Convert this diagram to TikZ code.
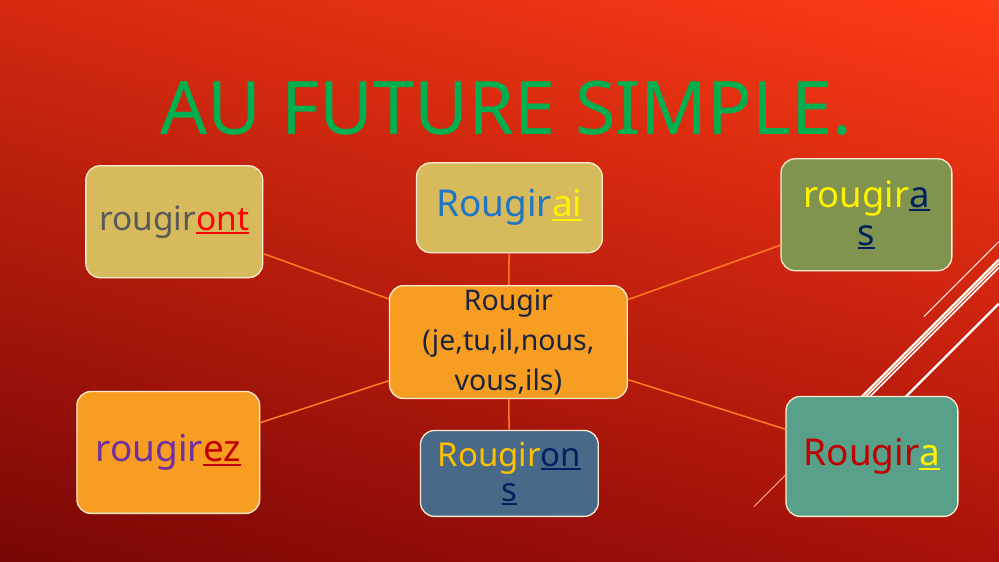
\documentclass[tikz,border=0pt]{standalone}
\usepackage{fontspec}
\setmainfont{Noto Sans}
\definecolor{bgul}{RGB}{212,42,16}
\definecolor{bgur}{RGB}{255,60,22}
\definecolor{bgll}{RGB}{120,6,5}
\definecolor{bglr}{RGB}{168,18,10}
\definecolor{titlegreen}{RGB}{0,176,80}
\definecolor{boxline}{RGB}{250,236,210}
\definecolor{linkorange}{RGB}{255,125,30}
\definecolor{khaki}{RGB}{214,186,92}
\definecolor{olive}{RGB}{128,148,80}
\definecolor{orangebox}{RGB}{247,157,34}
\definecolor{steel}{RGB}{72,106,136}
\definecolor{teal1}{RGB}{88,160,138}
\definecolor{navy}{RGB}{0,32,96}
\definecolor{inknavy}{RGB}{26,36,64}
\definecolor{greytext}{RGB}{89,89,89}
\definecolor{bluetext}{RGB}{31,118,198}
\definecolor{purpletext}{RGB}{112,48,160}
\definecolor{darkred}{RGB}{192,0,0}
\definecolor{goldtext}{RGB}{255,192,0}
\usetikzlibrary{positioning, shadings}
\newcommand{\undr}[1]{\setbox0\hbox{#1}\rlap{\rule[-4pt]{\wd0}{1.8pt}}\box0}
\tikzset{
  verbbox/.style={draw=boxline, line width=1.3pt, rounded corners=14pt, align=center, inner sep=2pt, font=\fontsize{37}{38}\selectfont},
  link/.style={draw=linkorange, line width=1.5pt},
  deco/.style={draw=white, line width=2.4pt},
}

\begin{document}
\begin{tikzpicture}[x=1pt, y=-1pt]
  % background
  \shade[upper left=bgul, upper right=bgur, lower left=bgll, lower right=bglr] (0,0) rectangle (1000,562);

  % diagonal strokes on the right
  \draw[white, line width=1pt] (925,317) -- (1000,242);
  \draw[deco] (862,398) -- (1000,260);
  \draw[white, line width=1.6pt] (866,398) -- (1000,264);
  \draw[white, line width=1.6pt] (870,398) -- (1000,268);
  \draw[linkorange!60!white, line width=1pt] (755,507) -- (1000,262);
  \draw[deco] (906,398) -- (1000,304);

  % title
  \node[font=\fontsize{74}{80}\selectfont, text=titlegreen] (title) at (507,108) {AU FUTURE SIMPLE.};

  % centre
  \node[verbbox, fill=orangebox, minimum width=238pt, minimum height=113pt, font=\fontsize{28.5}{40}\selectfont, text=inknavy] (verb) at (509,342.5) {Rougir\\(je,tu,il,nous,\\vous,ils)};

  % endings
  \node[verbbox, fill=khaki, minimum width=186pt, minimum height=90pt] (je) at (510,208) {\textcolor{bluetext}{Rougir}\textcolor{yellow}{\undr{ai}}};
  \node[verbbox, fill=olive, minimum width=171pt, minimum height=112pt, font=\fontsize{36.5}{38}\selectfont] (tu) at (867.5,215) {\textcolor{yellow}{rougir}\textcolor{navy}{\undr{a}}\\\textcolor{navy}{\undr{s}}};
  \node[verbbox, fill=teal1, minimum width=172pt, minimum height=120pt] (il) at (873,457) {\textcolor{darkred}{Rougir}\textcolor{yellow}{\undr{a}}};
  \node[verbbox, fill=steel, minimum width=178pt, minimum height=86pt, font=\fontsize{33}{35}\selectfont] (nous) at (510,474) {\textcolor{goldtext}{Rougir}\textcolor{navy}{\undr{on}}\\\textcolor{navy}{\undr{s}}};
  \node[verbbox, fill=orangebox, minimum width=183pt, minimum height=122pt] (vous) at (168.5,453) {\textcolor{purpletext}{rougir}\textcolor{darkred}{\undr{ez}}};
  \node[verbbox, fill=khaki, minimum width=177pt, minimum height=112pt, font=\fontsize{33.5}{36}\selectfont] (ils) at (174.5,222) {\textcolor{greytext}{rougir}\textcolor{red}{\undr{ont}}};

  % links
  \foreach \p in {je,tu,il,nous,vous,ils}
    \draw[link] (verb) -- (\p);
\end{tikzpicture}
\end{document}
